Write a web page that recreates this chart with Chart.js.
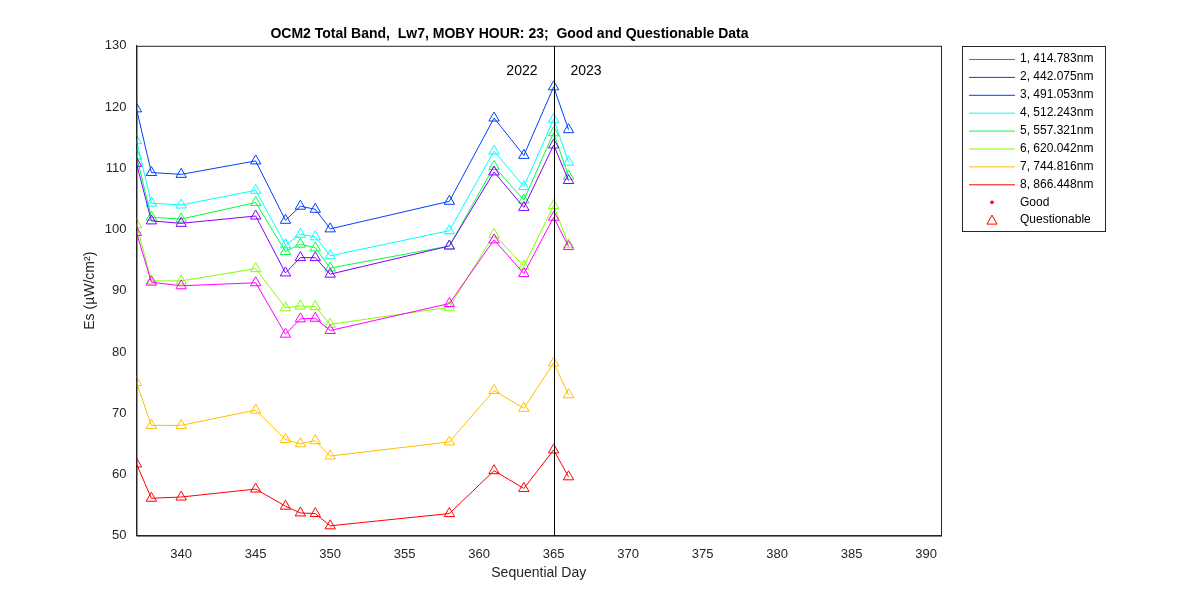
<!DOCTYPE html>
<html><head><meta charset="utf-8">
<script src="https://cdn.jsdelivr.net/npm/chart.js@4"></script>
<style>body{margin:0;background:#fff}#w{width:1200px;height:600px}</style>
</head><body><div id="w"><canvas id="c"></canvas></div>
<script>
// Datos del gráfico
const days = [337, 338, 340, 345, 347, 348, 349, 350, 358, 361, 363, 365, 366];
const bandNames = ['1, 414.783nm', '2, 442.075nm', '3, 491.053nm', '4, 512.243nm',
  '5, 557.321nm', '6, 620.042nm', '7, 744.816nm', '8, 866.448nm'];
const bandColors = ['#ff00ff', '#8000ff', '#0040ff', '#00ffff', '#00ff40', '#80ff00', '#ffbf00', '#ff0000'];
const band1 = [99.5, 91.4, 90.8, 91.3, 82.9, 85.4, 85.5, 83.5, 87.9, 98.3, 92.8, 102.0, 97.2];
const band2 = [110.8, 101.4, 101.0, 102.2, 92.9, 95.4, 95.4, 92.7, 97.3, 109.4, 103.6, 113.8, 108.0];
const band3 = [119.7, 109.3, 109.0, 111.2, 101.5, 103.8, 103.3, 100.1, 104.6, 118.2, 112.1, 123.3, 116.3];
const band4 = [114.5, 104.3, 104.0, 106.4, 97.5, 99.2, 98.8, 95.7, 99.8, 112.8, 107.0, 118.0, 111.0];
const band5 = [112.0, 102.0, 101.7, 104.4, 96.4, 97.6, 97.0, 93.7, 97.3, 110.3, 104.8, 115.8, 108.7];
const band6 = [100.8, 91.6, 91.6, 93.6, 87.2, 87.5, 87.4, 84.5, 87.3, 99.2, 94.0, 103.9, 97.5];
const band7 = [75.0, 68.0, 68.0, 70.5, 65.7, 65.0, 65.5, 63.0, 65.3, 73.7, 70.8, 78.2, 73.0];
const band8 = [61.7, 56.1, 56.3, 57.6, 54.8, 53.7, 53.6, 51.6, 53.6, 60.6, 57.7, 64.0, 59.6];
const bands = [band1, band2, band3, band4, band5, band6, band7, band8];
const yearLineDay = 365;
const xTicks = [340, 345, 350, 355, 360, 365, 370, 375, 380, 385, 390];

const datasets = bands.map((vals, i) => ({
  label: bandNames[i],
  data: vals.map((v, j) => ({x: days[j], y: v})),
  borderColor: bandColors[i],
  backgroundColor: 'rgba(0,0,0,0)',
  borderWidth: 1,
  pointStyle: 'triangle',
  pointRadius: 6,
  pointBorderWidth: 1,
  pointBorderColor: bandColors[i],
  pointBackgroundColor: 'rgba(0,0,0,0)',
  tension: 0
}));

const font = 'Arial, "Liberation Sans", sans-serif';

// marco, línea del año y leyenda
const extras = {
  id: 'extras',
  afterDraw(chart) {
    const {ctx, chartArea: a, scales: {x}} = chart;
    ctx.save();
    ctx.strokeStyle = '#262626'; ctx.lineWidth = 1;
    ctx.strokeRect(a.left + 0.5, a.top + 0.5, a.right - a.left, a.bottom - a.top);
    const xp = Math.round(x.getPixelForValue(yearLineDay)) + 0.5;
    ctx.strokeStyle = '#000';
    ctx.beginPath(); ctx.moveTo(xp, a.top); ctx.lineTo(xp, a.bottom); ctx.stroke();
    ctx.fillStyle = '#000'; ctx.font = '14px ' + font; ctx.textBaseline = 'middle';
    ctx.textAlign = 'right'; ctx.fillText('2022', xp - 17, 71);
    ctx.textAlign = 'left'; ctx.fillText('2023', xp + 16, 71);
    // leyenda
    const lx = 962, ly = 46, lw = 143, lh = 185;
    ctx.fillStyle = '#fff'; ctx.fillRect(lx, ly, lw, lh);
    ctx.strokeStyle = '#262626'; ctx.strokeRect(lx + 0.5, ly + 0.5, lw, lh);
    ctx.font = '12px ' + font; ctx.textAlign = 'left';
    const row = 17.9;
    bandNames.forEach((n, i) => {
      const y = ly + 13 + i * row;
      ctx.strokeStyle = bandColors[i];
      ctx.beginPath(); ctx.moveTo(lx + 7, y + 0.5); ctx.lineTo(lx + 53, y + 0.5); ctx.stroke();
      ctx.fillStyle = '#000'; ctx.fillText(n, lx + 58, y);
    });
    let y = ly + 13 + 8 * row;
    ctx.fillStyle = '#ff0000';
    ctx.beginPath(); ctx.arc(lx + 30, y, 1.8, 0, Math.PI * 2); ctx.fill();
    ctx.fillStyle = '#000'; ctx.fillText('Good', lx + 58, y);
    y += row;
    ctx.strokeStyle = '#ff0000';
    ctx.beginPath(); ctx.moveTo(lx + 30, y - 5); ctx.lineTo(lx + 35, y + 4); ctx.lineTo(lx + 25, y + 4); ctx.closePath(); ctx.stroke();
    ctx.fillText('Questionable', lx + 58, y);
    ctx.restore();
  }
};

new Chart(document.getElementById('c'), {
  type: 'line',
  data: {datasets},
  options: {
    responsive: true, maintainAspectRatio: false, animation: false,
    layout: {padding: {left: 78, right: 259, top: 10, bottom: 14}},
    plugins: {
      legend: {display: false},
      tooltip: {enabled: false},
      title: {display: true, text: 'OCM2 Total Band,  Lw7, MOBY HOUR: 23;  Good and Questionable Data',
        color: '#000', font: {family: font, size: 14, weight: 'bold'}, padding: {top: 16, bottom: 3}}
    },
    scales: {
      x: {type: 'linear', min: 337, max: 391,
        afterBuildTicks: s => { s.ticks = xTicks.map(v => ({value: v})); },
        grid: {display: false, drawTicks: true},
        border: {color: '#262626'},
        ticks: {color: '#262626', font: {family: font, size: 13}, maxRotation: 0},
        title: {display: true, text: 'Sequential Day', color: '#262626', font: {family: font, size: 14}, padding: {top: 0}}},
      y: {min: 50, max: 130,
        grid: {display: false},
        border: {color: '#262626'},
        ticks: {stepSize: 10, color: '#262626', font: {family: font, size: 13}, padding: 2},
        title: {display: true, text: 'Es (\u00b5W/cm\u00b2)', color: '#262626', font: {family: font, size: 14}, padding: {bottom: 4}}}
    }
  },
  plugins: [extras]
});
</script></body></html>
